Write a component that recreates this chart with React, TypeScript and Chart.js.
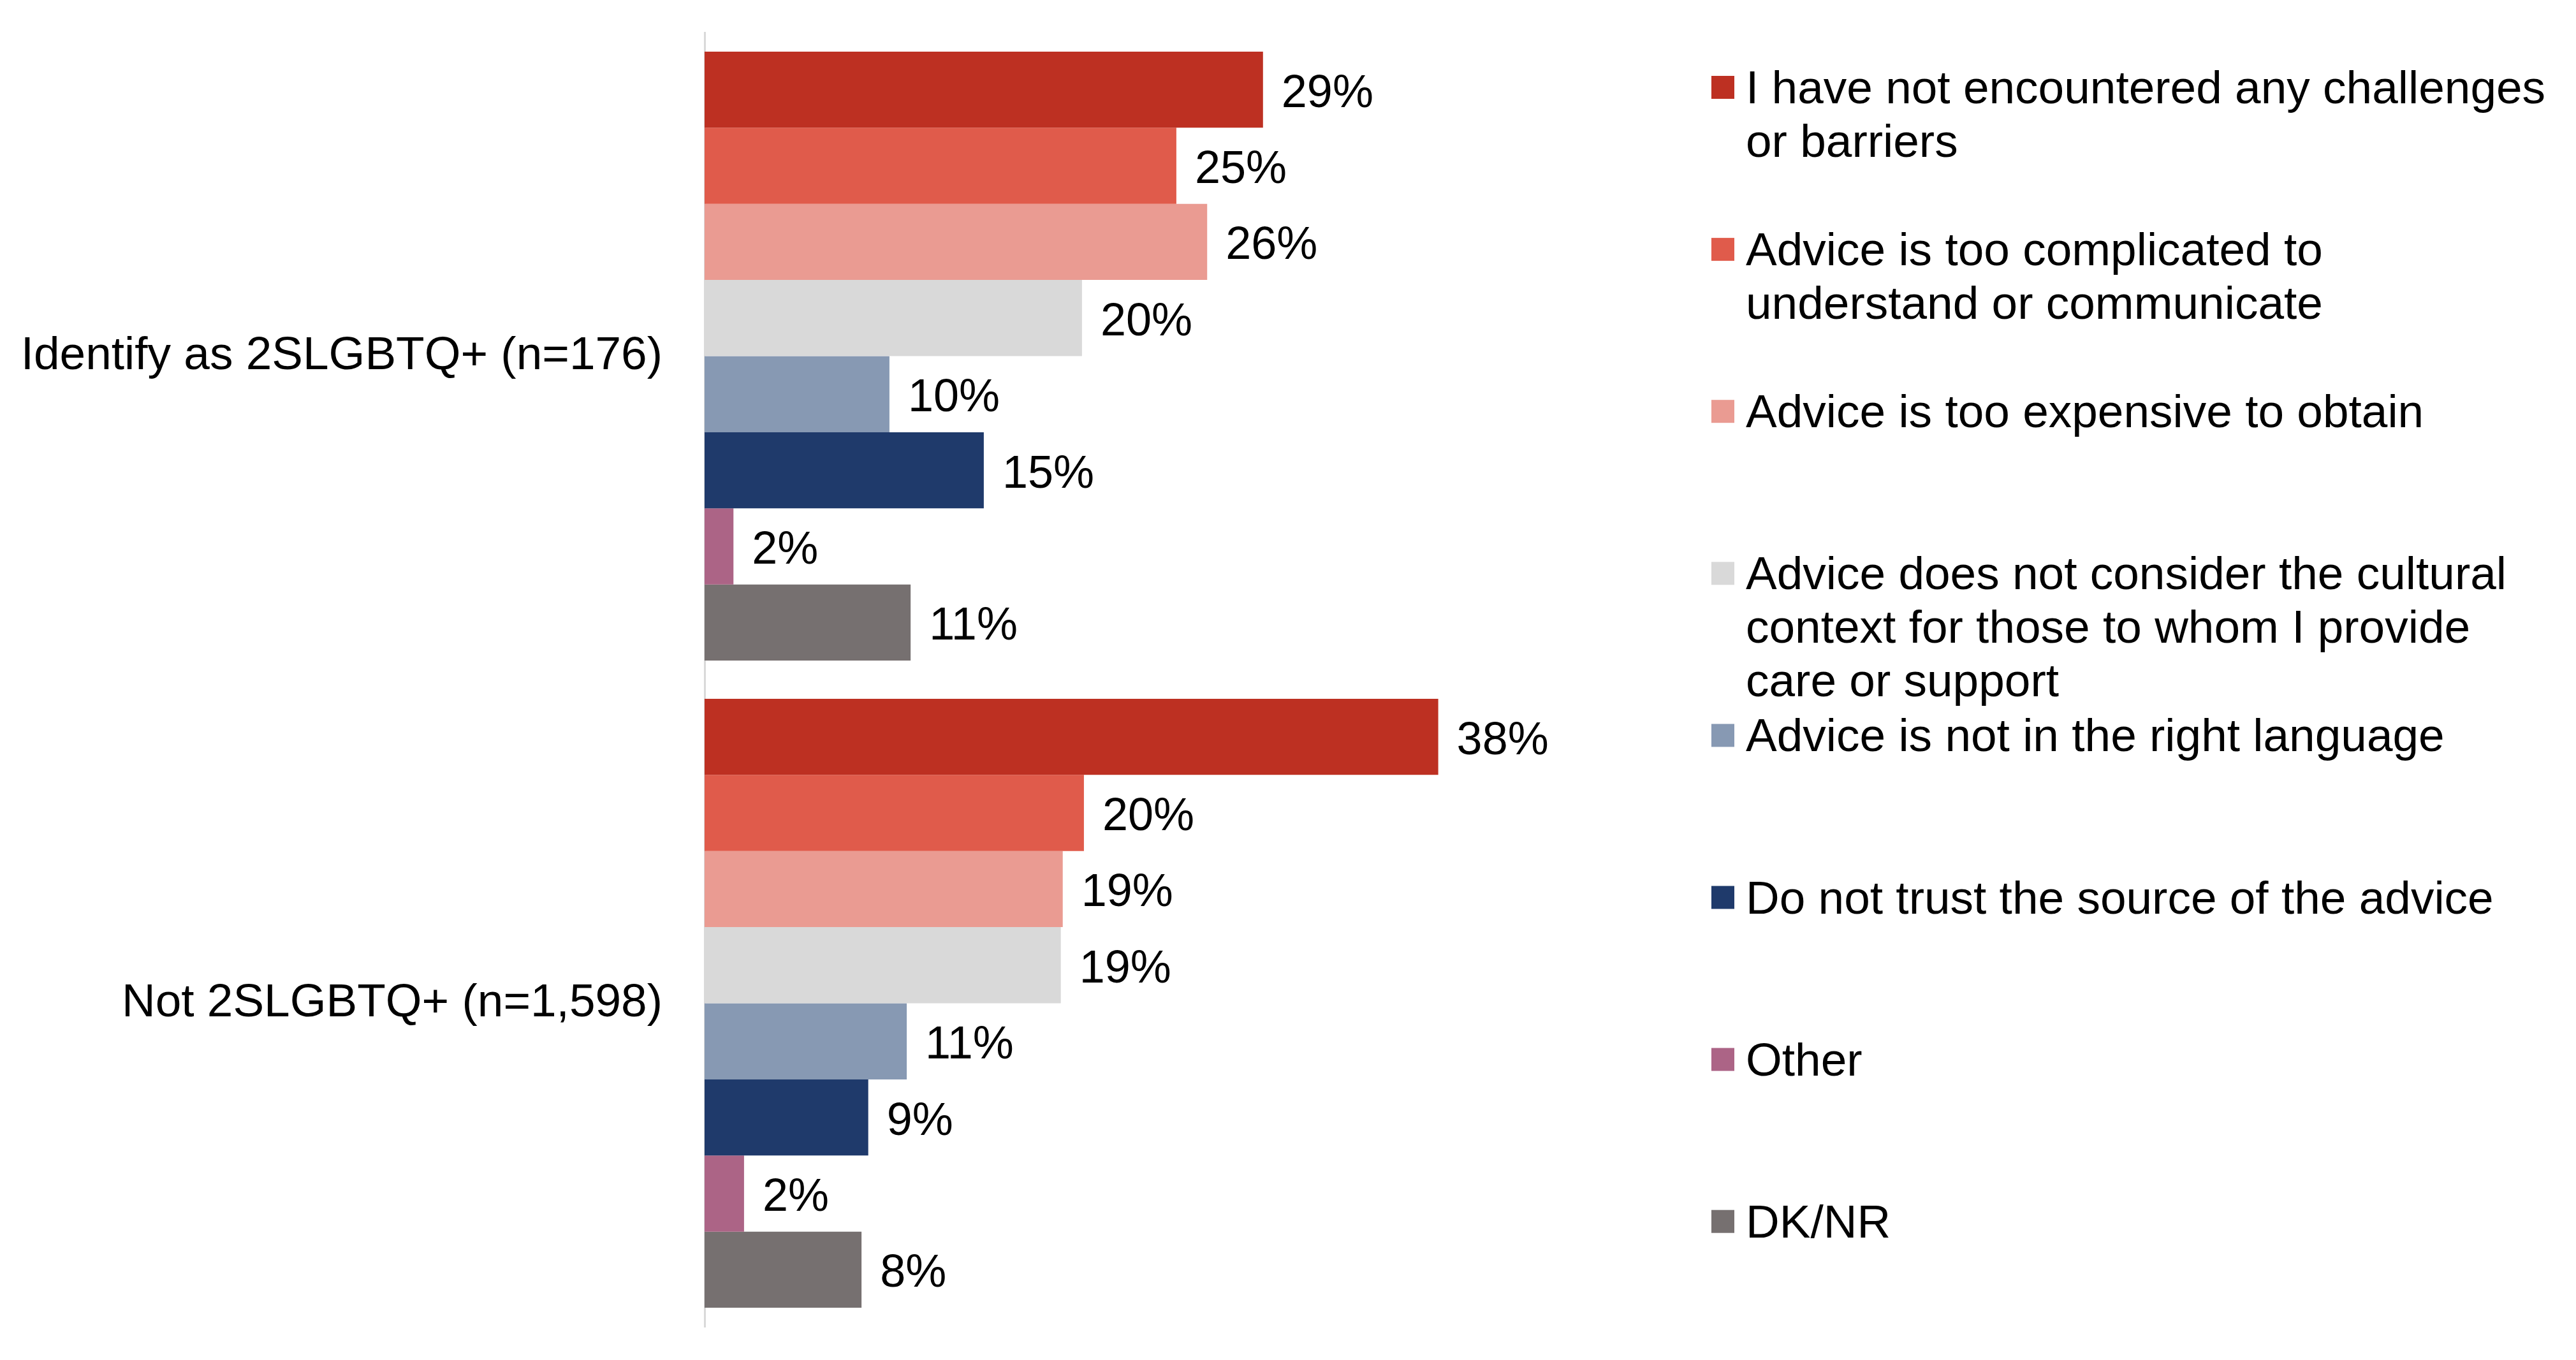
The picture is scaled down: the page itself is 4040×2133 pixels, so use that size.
import React, { useEffect, useRef } from "react";
import { Chart, registerables } from "chart.js";

Chart.register(...registerables);

// ---------- data ----------
const CATEGORIES = ["Identify as 2SLGBTQ+ (n=176)", "Not 2SLGBTQ+ (n=1,598)"];

// "\n" marks where the legend text wraps
const SERIES = [
  "I have not encountered any challenges\nor barriers",
  "Advice is too complicated to\nunderstand or communicate",
  "Advice is too expensive to obtain",
  "Advice does not consider the cultural\ncontext for those to whom I provide\ncare or support",
  "Advice is not in the right language",
  "Do not trust the source of the advice",
  "Other",
  "DK/NR",
];

const COLORS = [
  "#BD3022",
  "#E05B4B",
  "#EA9B92",
  "#D9D9D9",
  "#8799B3",
  "#1F3A6B",
  "#AC6486",
  "#767070",
];

const VALUES_IDENTIFY = [29.0, 24.5, 26.1, 19.6, 9.6, 14.5, 1.5, 10.7];
const VALUES_NOT = [38.1, 19.7, 18.6, 18.5, 10.5, 8.5, 2.05, 8.15];

const LABELS_IDENTIFY = ["29%", "25%", "26%", "20%", "10%", "15%", "2%", "11%"];
const LABELS_NOT = ["38%", "20%", "19%", "19%", "11%", "9%", "2%", "8%"];

const X_MAX = 45;

// ---------- style ----------
const FONT = "'Liberation Sans', Arial, Helvetica, sans-serif";
const FONT_SIZE = 73;
const VALUE_FONT_SIZE = 72;
const W = 4040;
const H = 2133;

const valueLabelPlugin = {
  id: "valueLabels",
  afterDatasetsDraw(chart: any) {
    const ctx = chart.ctx as CanvasRenderingContext2D;
    ctx.save();
    ctx.font = `${VALUE_FONT_SIZE}px ${FONT}`;
    ctx.fillStyle = "#000000";
    ctx.textBaseline = "alphabetic";
    ctx.textAlign = "left";
    chart.data.datasets.forEach((ds: any, i: number) => {
      const meta = chart.getDatasetMeta(i);
      meta.data.forEach((el: any, j: number) => {
        ctx.fillText(ds.valueLabels[j], el.x + 29, el.y + 27);
      });
    });
    ctx.restore();
  },
};

const sideLegendPlugin = {
  id: "sideLegend",
  afterDraw(chart: any) {
    const ctx = chart.ctx as CanvasRenderingContext2D;
    const boxX = 2684;
    const box = 36;
    const textX = 2738;
    const top = 137;
    const step = 254.1;
    const lineH = 84;
    ctx.save();
    ctx.font = `${FONT_SIZE}px ${FONT}`;
    ctx.textBaseline = "alphabetic";
    ctx.textAlign = "left";
    chart.data.datasets.forEach((ds: any, i: number) => {
      const cy = top + i * step;
      ctx.fillStyle = ds.backgroundColor;
      ctx.fillRect(boxX, cy - box / 2, box, box);
      ctx.fillStyle = "#000000";
      const lines = String(ds.label).split("\n");
      lines.forEach((ln, k) => ctx.fillText(ln, textX, cy + 25 + k * lineH));
    });
    ctx.restore();
  },
};

export default function App() {
  const canvasRef = useRef<HTMLCanvasElement | null>(null);

  useEffect(() => {
    const canvas = canvasRef.current;
    if (!canvas) return;

    const datasets = SERIES.map((name, i) => ({
      label: name,
      data: [VALUES_IDENTIFY[i], VALUES_NOT[i]],
      valueLabels: [LABELS_IDENTIFY[i], LABELS_NOT[i]],
      backgroundColor: COLORS[i],
      borderWidth: 0,
      categoryPercentage: 0.941,
      barPercentage: 1.0,
    }));

    const chart = new Chart(canvas, {
      type: "bar",
      data: { labels: CATEGORIES, datasets: datasets as any },
      options: {
        indexAxis: "y",
        animation: false,
        responsive: false,
        devicePixelRatio: 1,
        layout: { padding: { left: 0, right: W - 2464, top: 51, bottom: H - 2081 } },
        plugins: {
          legend: { display: false },
          tooltip: { enabled: false },
          title: { display: false },
        },
        scales: {
          x: {
            display: false,
            min: 0,
            max: X_MAX,
          },
          y: {
            display: true,
            grid: { display: true, color: "rgba(0,0,0,0)", drawTicks: true, tickLength: 66 },
            border: { display: true, color: "#D9D9D9", width: 3 },
            ticks: {
              color: "#000000",
              padding: 0,
              font: { family: FONT, size: FONT_SIZE },
            },
            afterFit(scale: any) {
              scale.width = 1105;
            },
          },
        },
      } as any,
      plugins: [valueLabelPlugin, sideLegendPlugin],
    });

    return () => chart.destroy();
  }, []);

  return (
    <div style={{ position: "absolute", left: 0, top: 0, width: W, height: H, background: "#ffffff" }}>
      <canvas ref={canvasRef} width={W} height={H} style={{ display: "block", width: W, height: H }} />
    </div>
  );
}
